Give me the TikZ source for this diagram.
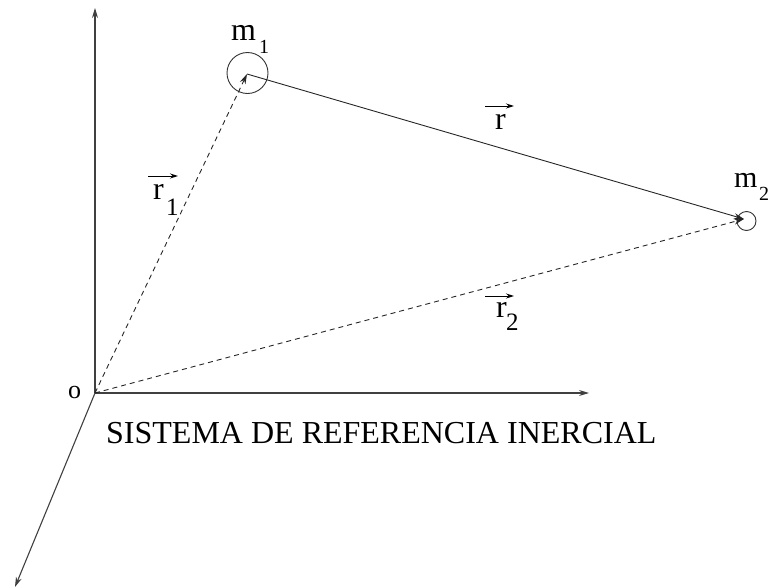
\documentclass[tikz,border=0pt]{standalone}
\usepackage{fontspec}
\setmainfont{Liberation Serif}
\usetikzlibrary{arrows.meta}
\begin{document}
\begin{tikzpicture}[x=1pt,y=-1pt,
  axis/.style={draw=black!75,line width=1.1pt,-{Stealth[length=10pt,width=6pt]}},
  vecline/.style={draw=black!85,line width=0.9pt,-{Stealth[length=10pt,width=6pt]}},
  dashvec/.style={vecline,dash pattern=on 5pt off 4pt},
  overarrow/.style={draw,line width=0.9pt,-{Stealth[length=8pt,width=5pt]}},
  mass/.style={circle,draw=black!80,line width=0.9pt,inner sep=0pt},
  lbl/.style={inner sep=0pt,anchor=base west},
  big/.style={lbl,font=\fontsize{32}{32}\selectfont},
  sub/.style={lbl,font=\fontsize{25}{25}\selectfont},
  subsm/.style={lbl,font=\fontsize{20}{20}\selectfont}]
\useasboundingbox (0,0) rectangle (769,587);
% axes
\coordinate (O) at (95,393);
\coordinate (ytop) at (95,8);
\coordinate (xend) at (589,393);
\coordinate (zend) at (15,587);
\draw[axis] (O) -- (ytop);
\draw[axis] (O) -- (xend);
\draw[axis] (O) -- (zend);
\node[lbl,font=\fontsize{26}{26}\selectfont] (olab) at (68,398) {o};
% masses
\node[mass,minimum size=41pt] (m1) at (247.5,73) {};
\node[mass,minimum size=19pt] (m2) at (746.5,221) {};
\coordinate (p1) at (247,74);
\coordinate (p2) at (744,219);
% vectors
\draw[dashvec] (O) -- (p1);
\draw[dashvec] (O) -- (p2);
\draw[vecline] (p1) -- (p2);
% mass labels
\node[big] (m1l) at (231,40) {m};
\node[subsm] (m1s) at (259,53) {1};
\node[lbl,font=\fontsize{30}{30}\selectfont] (m2l) at (734,187) {m};
\node[subsm] (m2s) at (759,200) {2};
% r label
\node[big] (rl) at (495,129) {r};
\coordinate (ra1) at (485,106);
\coordinate (ra2) at (514,106);
\draw[overarrow] (ra1) -- (ra2);
% r1 label
\node[big] (r1l) at (153,199) {r};
\node[sub] (r1s) at (166,215) {1};
\coordinate (r1a1) at (148,176);
\coordinate (r1a2) at (178,176);
\draw[overarrow] (r1a1) -- (r1a2);
% r2 label
\node[big] (r2l) at (496,317) {r};
\node[sub] (r2s) at (506,330) {2};
\coordinate (r2a1) at (485,296);
\coordinate (r2a2) at (514,296);
\draw[overarrow] (r2a1) -- (r2a2);
% caption
\node[big] (cap) at (106,443) {SISTEMA DE REFERENCIA INERCIAL};
\end{tikzpicture}
\end{document}
